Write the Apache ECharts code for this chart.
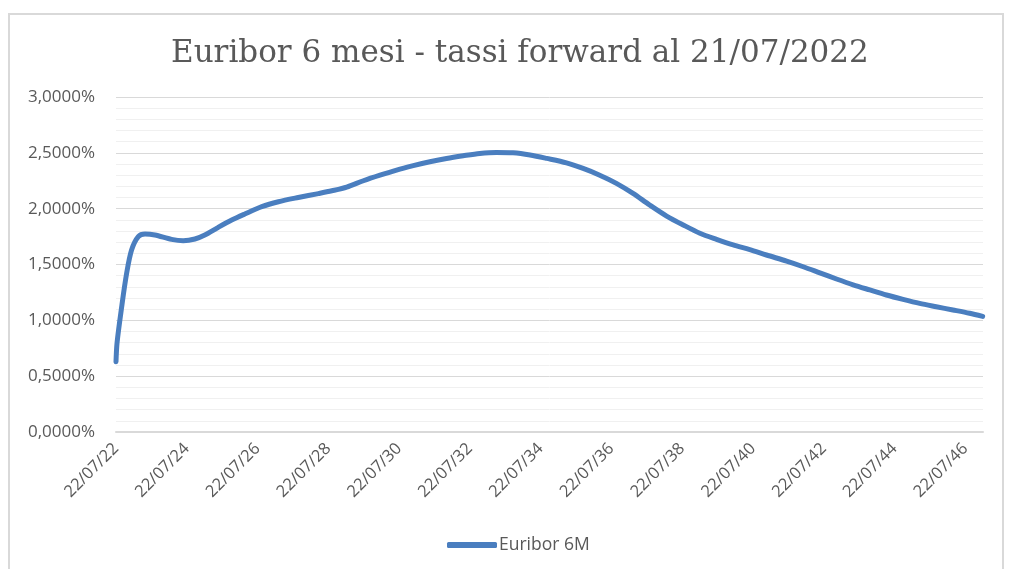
<!DOCTYPE html>
<html>
<head>
<meta charset="utf-8">
<script src="https://cdn.jsdelivr.net/npm/echarts@6/dist/echarts.min.js"></script>
<style>
html,body{margin:0;padding:0;background:#fff;}
#frame{position:absolute;left:8px;top:13px;width:996px;height:570px;border:2px solid #d9d9d9;box-sizing:border-box;}
#chart{position:absolute;left:0;top:0;width:1011px;height:569px;}
</style>
</head>
<body>
<div id="frame"></div>
<div id="chart"></div>
<script>
// Years elapsed since 22/07/2022
const yearOffsets = [0, 0.03, 0.16, 0.30, 0.44, 0.63, 0.82, 1.10, 1.57, 1.90, 2.23, 2.51, 2.89, 3.27, 3.64, 4.12, 4.59, 5.15, 5.72, 6.10, 6.52, 6.99, 7.46, 7.93, 8.40, 8.87, 9.34, 9.81, 10.28, 10.75, 11.22, 11.70, 12.17, 12.73, 13.20, 13.67, 14.14, 14.61, 15.08, 15.56, 16.03, 16.50, 16.97, 17.44, 17.91, 18.38, 18.95, 19.42, 19.89, 20.36, 20.83, 21.30, 21.77, 22.24, 22.71, 23.18, 23.65, 24.12, 24.49];
// Euribor 6M forward rates (%)
const rates = [0.63, 0.80, 1.12, 1.42, 1.63, 1.75, 1.773, 1.764, 1.725, 1.713, 1.728, 1.764, 1.833, 1.898, 1.952, 2.018, 2.062, 2.100, 2.135, 2.160, 2.193, 2.250, 2.300, 2.346, 2.385, 2.420, 2.450, 2.474, 2.495, 2.504, 2.500, 2.480, 2.450, 2.410, 2.360, 2.300, 2.227, 2.137, 2.033, 1.934, 1.854, 1.780, 1.725, 1.675, 1.633, 1.585, 1.530, 1.480, 1.425, 1.370, 1.318, 1.272, 1.227, 1.188, 1.152, 1.122, 1.093, 1.063, 1.035];
const startYear = 22;
const endOffset = 24.5;
const seriesName = 'Euribor 6M';
const titleText = 'Euribor 6 mesi - tassi forward al 21/07/2022';

const chart = echarts.init(document.getElementById('chart'));
const data = yearOffsets.map((t, i) => [t, rates[i]]);
chart.setOption({
  animation: false,
  title: {
    text: titleText,
    left: 166,
    top: 33,
    textStyle: {fontFamily: 'DejaVu Serif', fontSize: 31, fontWeight: 'normal', color: '#595959'}
  },
  legend: {
    bottom: 10,
    left: 442,
    itemWidth: 50,
    itemHeight: 6,
    itemGap: 4,
    icon: 'roundRect',
    textStyle: {fontFamily: 'Open Sans', fontSize: 17.5, color: '#595959', padding: [0, 0, 0, -3]},
    data: [seriesName]
  },
  grid: {left: 116, right: 28, top: 97, bottom: 137, containLabel: false},
  xAxis: {
    type: 'value',
    min: 0,
    max: endOffset,
    interval: 2,
    axisLine: {show: true, onZero: false, lineStyle: {color: '#d9d9d9', width: 2}},
    axisTick: {show: false},
    splitLine: {show: false},
    axisLabel: {
      rotate: 45,
      color: '#595959',
      fontFamily: 'Open Sans',
      fontSize: 16.5,
      margin: 14,
      showMaxLabel: false,
      formatter: v => '22/07/' + String(startYear + v).padStart(2, '0')
    }
  },
  yAxis: {
    type: 'value',
    min: 0,
    max: 3,
    interval: 0.5,
    axisLine: {show: false},
    axisTick: {show: false},
    axisLabel: {
      color: '#595959',
      fontFamily: 'Open Sans',
      fontSize: 17,
      margin: 21,
      formatter: v => v.toFixed(4).replace('.', ',') + '%'
    },
    splitLine: {show: true, lineStyle: {color: '#d9d9d9', width: 1}},
    minorTick: {show: false, splitNumber: 5},
    minorSplitLine: {show: true, lineStyle: {color: '#f0f0f0', width: 1}}
  },
  series: [{
    name: seriesName,
    type: 'line',
    data: data,
    smooth: 0.3,
    showSymbol: false,
    symbol: 'none',
    lineStyle: {color: '#4A7EBF', width: 5, cap: 'round', join: 'round'},
    itemStyle: {color: '#4A7EBF'}
  }]
});
</script>
</body>
</html>
